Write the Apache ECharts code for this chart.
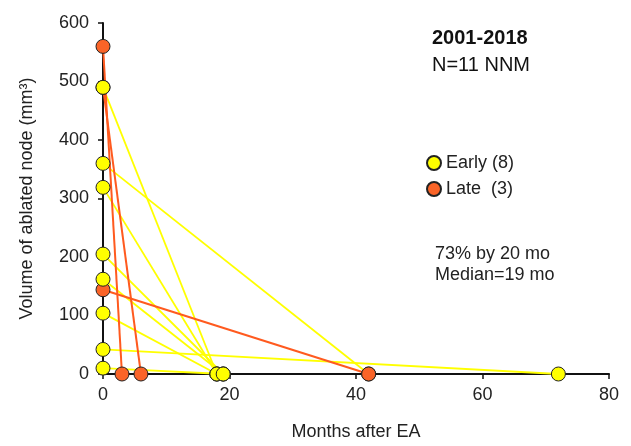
<!DOCTYPE html>
<html>
<head>
<meta charset="utf-8">
<script src="https://cdn.jsdelivr.net/npm/echarts@6/dist/echarts.min.js"></script>
<style>
  html, body { margin: 0; padding: 0; background: #fff; }
  #main { width: 631px; height: 446px; }
</style>
</head>
<body>
<div id="main"></div>
<script>
// volume at ablation (mm3) and months until node reached 0
var earlyVolume = [490, 360, 319, 205, 162, 104, 42, 10];
var earlyMonths = [18, 42, 18, 19, 19, 18, 72, 19];
var lateVolume = [560, 490, 144];
var lateMonths = [3, 6, 42];

var xTicks = { min: 0, max: 80, interval: 20 };
var yTicks = { min: 0, max: 600, interval: 100 };

var FONT = '"Liberation Sans", Arial, sans-serif';
var YELLOW = '#ffff00';
var ORANGE = '#fa6428';

var myChart = echarts.init(document.getElementById('main'));

var series = [];

function pointSeries(name, color, data, z) {
    return {
        type: 'scatter',
        name: name,
        symbol: 'circle',
        symbolSize: 14,
        z: z,
        itemStyle: { color: color, borderColor: '#222', borderWidth: 1, opacity: 1 },
        data: data
    };
}

// lines + start/end points; z values keep the stacking as in the figure
function addGroup(name, volumes, months, pointColor, lineColor, lineWidth, z) {
    var starts = [], ends = [];
    for (var i = 0; i < volumes.length; i++) {
        series.push({
            type: 'line',
            name: name + '-line' + i,
            symbol: 'none',
            silent: true,
            z: z.line,
            lineStyle: { color: lineColor, width: lineWidth },
            data: [[0, volumes[i]], [months[i], 0]]
        });
        starts.push([0, volumes[i]]);
        ends.push([months[i], 0]);
    }
    series.push(pointSeries(name, pointColor, starts, z.start));
    series.push(pointSeries(name, pointColor, ends, z.end));
}

addGroup('Early (8)', earlyVolume, earlyMonths, YELLOW, '#ffff00', 1.8, { line: 1, start: 5, end: 3 });
addGroup('Late  (3)', lateVolume, lateMonths, ORANGE, '#ff5a1f', 2, { line: 2, start: 4, end: 6 });

var option = {
    backgroundColor: '#fff',
    animation: false,
    textStyle: { fontFamily: FONT },
    grid: {
        left: 103,
        right: 22,
        top: 23,
        bottom: 67
    },
    legend: {
        orient: 'vertical',
        left: 421,
        top: 149,
        itemWidth: 14,
        itemHeight: 14,
        itemGap: 8,
        icon: 'circle',
        textStyle: { fontSize: 18, color: '#222', fontFamily: FONT },
        data: ['Early (8)', 'Late  (3)']
    },
    xAxis: {
        type: 'value',
        min: xTicks.min,
        max: xTicks.max,
        interval: xTicks.interval,
        name: 'Months after EA',
        nameLocation: 'middle',
        nameGap: 49,
        nameTextStyle: { fontSize: 18, color: '#222', fontFamily: FONT },
        axisLine: { onZero: false, lineStyle: { color: '#111', width: 2 } },
        axisTick: { show: true, inside: false, length: 5, lineStyle: { color: '#111', width: 1.5 } },
        axisLabel: { fontSize: 18, color: '#222', margin: 12, fontFamily: FONT },
        splitLine: { show: false }
    },
    yAxis: {
        type: 'value',
        min: yTicks.min,
        max: yTicks.max,
        interval: yTicks.interval,
        name: 'Volume of ablated node (mm³)',
        nameLocation: 'middle',
        nameGap: 67,
        nameTextStyle: { fontSize: 18, color: '#222', fontFamily: FONT },
        axisLine: { onZero: false, lineStyle: { color: '#111', width: 2 } },
        axisTick: { show: true, inside: false, length: 5, lineStyle: { color: '#111', width: 1.5 } },
        axisLabel: { fontSize: 18, color: '#222', margin: 14, fontFamily: FONT },
        splitLine: { show: false }
    },
    graphic: [
        {
            type: 'text',
            left: 432,
            top: 28,
            style: { text: '2001-2018', font: 'bold 20px ' + FONT, fill: '#111' }
        },
        {
            type: 'text',
            left: 432,
            top: 55,
            style: { text: 'N=11 NNM', font: '20px ' + FONT, fill: '#111' }
        },
        {
            type: 'text',
            left: 435,
            top: 244,
            style: {
                text: '73% by 20 mo\nMedian=19 mo',
                font: '18px ' + FONT,
                lineHeight: 21,
                fill: '#222'
            }
        }
    ],
    series: series
};

myChart.setOption(option);
</script>
</body>
</html>
